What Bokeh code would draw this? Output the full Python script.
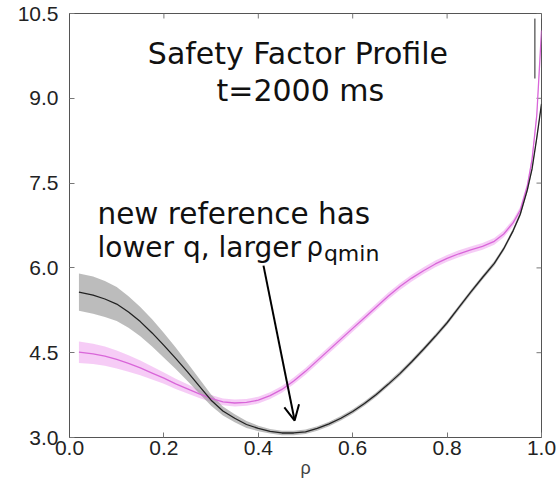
import numpy as np
from bokeh.plotting import figure
from bokeh.models import Range1d, Arrow, OpenHead, ColumnDataSource, FixedTicker, PrintfTickFormatter
from bokeh.core.properties import value
from bokeh.embed import file_html
from bokeh.resources import INLINE

# ---- data ----
rho = [0.02, 0.05, 0.075, 0.10, 0.125, 0.15, 0.175, 0.20, 0.225, 0.25, 0.275, 0.30,
       0.325, 0.35, 0.375, 0.40, 0.425, 0.45, 0.475, 0.50, 0.525, 0.55, 0.575, 0.60,
       0.625, 0.65, 0.675, 0.70, 0.725, 0.75, 0.775, 0.80, 0.825, 0.85, 0.875, 0.90,
       0.92, 0.94, 0.955, 0.97, 0.98, 0.99, 1.00]

q_old = [5.57, 5.52, 5.45, 5.36, 5.22, 5.05, 4.85, 4.63, 4.40, 4.16, 3.91, 3.66,
         3.47, 3.34, 3.23, 3.16, 3.11, 3.08, 3.08, 3.10, 3.16, 3.24, 3.34, 3.46,
         3.60, 3.76, 3.94, 4.13, 4.34, 4.56, 4.79, 5.03, 5.30, 5.57, 5.83, 6.08,
         6.34, 6.66, 6.95, 7.38, 7.75, 8.30, 8.90]
q_old_err = [0.33, 0.33, 0.32, 0.30, 0.28, 0.26, 0.24, 0.22, 0.19, 0.16, 0.13, 0.10,
             0.08, 0.07, 0.06, 0.05, 0.04, 0.04, 0.04, 0.04, 0.04, 0.04, 0.04, 0.04,
             0.04, 0.04, 0.04, 0.04, 0.04, 0.04, 0.04, 0.04, 0.04, 0.04, 0.04, 0.04,
             0.04, 0.04, 0.04, 0.04, 0.04, 0.04, 0.04]

q_new = [4.51, 4.48, 4.44, 4.38, 4.31, 4.23, 4.14, 4.05, 3.95, 3.86, 3.77, 3.69,
         3.63, 3.61, 3.62, 3.66, 3.74, 3.85, 4.00, 4.17, 4.36, 4.55, 4.74, 4.93,
         5.12, 5.31, 5.50, 5.67, 5.82, 5.95, 6.07, 6.17, 6.25, 6.32, 6.38, 6.47,
         6.60, 6.80, 7.02, 7.45, 7.92, 8.70, 10.20]
q_new_err = [0.19, 0.18, 0.17, 0.16, 0.145, 0.13, 0.115, 0.10, 0.09, 0.08, 0.07, 0.06,
             0.06, 0.06, 0.06, 0.06, 0.06, 0.06, 0.06, 0.06, 0.06, 0.06, 0.06, 0.06,
             0.06, 0.06, 0.06, 0.06, 0.06, 0.06, 0.06, 0.06, 0.06, 0.06, 0.06, 0.06,
             0.06, 0.06, 0.06, 0.06, 0.06, 0.06, 0.06]

x_ticks = [0.0, 0.2, 0.4, 0.6, 0.8, 1.0]
y_ticks = [3.0, 4.5, 6.0, 7.5, 9.0, 10.5]

title_lines = ["Safety Factor Profile", "t=2000 ms"]
note_line1 = "new reference has"
note_line2 = "lower q, larger "

# ---- figure ----
p = figure(width=556, height=481, x_range=Range1d(0, 1), y_range=Range1d(3, 10.5),
           output_backend="svg", toolbar_location=None,
           min_border_left=69, min_border_right=15, min_border_top=13, min_border_bottom=44)
p.grid.visible = False
p.outline_line_color = "#555555"
p.background_fill_color = "white"
p.border_fill_color = "white"

for ax in (p.xaxis[0], p.yaxis[0]):
    ax.major_tick_in = 5
    ax.major_tick_out = 0
    ax.minor_tick_line_color = None
    ax.axis_line_color = "#555555"
    ax.major_tick_line_color = "#777777"
    ax.major_label_text_font = "Liberation Sans"
    ax.major_label_text_font_size = "21px"
    ax.major_label_text_color = "#222222"
    ax.formatter = PrintfTickFormatter(format="%.1f")

p.xaxis[0].ticker = FixedTicker(ticks=x_ticks)
p.yaxis[0].ticker = FixedTicker(ticks=y_ticks)
p.xaxis[0].major_label_standoff = 3
p.yaxis[0].major_label_standoff = 11
p.xaxis[0].axis_label = "ρ"
p.xaxis[0].axis_label_text_font = "Liberation Sans"
p.xaxis[0].axis_label_text_font_style = "normal"
p.xaxis[0].axis_label_text_font_size = "18px"
p.xaxis[0].axis_label_standoff = 0

# mirrored inward ticks on the top and right edges of the frame
p.ray(x=x_ticks, y=[10.5] * len(x_ticks), length=5, length_units="screen",
      angle=-np.pi / 2, line_color="#777777", line_width=1)
p.ray(x=[1.0] * len(y_ticks), y=y_ticks, length=5, length_units="screen",
      angle=np.pi, line_color="#777777", line_width=1)

# ---- data glyphs ----
src = ColumnDataSource(dict(
    rho=rho,
    old=q_old, old_lo=np.array(q_old) - np.array(q_old_err), old_hi=np.array(q_old) + np.array(q_old_err),
    new=q_new, new_lo=np.array(q_new) - np.array(q_new_err), new_hi=np.array(q_new) + np.array(q_new_err),
))

p.varea(x="rho", y1="new_lo", y2="new_hi", source=src, fill_color="#ee99ee", fill_alpha=0.5)
p.varea(x="rho", y1="old_lo", y2="old_hi", source=src, fill_color="#909090", fill_alpha=0.6)
p.line(x="rho", y="new", source=src, line_color="#d966d9", line_width=1.3)
p.line(x="rho", y="old", source=src, line_color="#222222", line_width=1.3)

# small vertical stroke near the top right of the frame (present in the reference)
p.segment(x0=[0.986], y0=[9.35], x1=[0.986], y1=[10.41], line_color="#222222", line_width=1)

# ---- texts ----
font = value("DejaVu Sans")
p.text(x=[0.484, 0.489], y=[9.79, 9.14], text=title_lines, text_font=font,
       text_font_size=value("30px"), text_align="center", text_baseline="alphabetic",
       text_color="#111111")
p.text(x=[0.0593], y=[6.957], text=[note_line1], text_font=font,
       text_font_size=value("29.5px"), text_align="left", text_baseline="alphabetic",
       text_color="#111111")
p.text(x=[0.0593], y=[6.366], text=[note_line2], text_font=font,
       text_font_size=value("28px"), text_align="left", text_baseline="alphabetic",
       text_color="#111111")
p.text(x=[0.502], y=[6.366], text=["ρ"], text_font=font,
       text_font_size=value("26px"), text_align="left", text_baseline="alphabetic",
       text_color="#111111")
p.text(x=[0.539], y=[6.25], text=["qmin"], text_font=font,
       text_font_size=value("22px"), text_align="left", text_baseline="alphabetic",
       text_color="#111111")

p.add_layout(Arrow(x_start=0.411, y_start=6.04, x_end=0.477, y_end=3.30,
                   line_width=2, line_color="black",
                   end=OpenHead(size=15, line_width=2, line_color="black")))

open("out.html", "w").write(file_html(p, INLINE))
